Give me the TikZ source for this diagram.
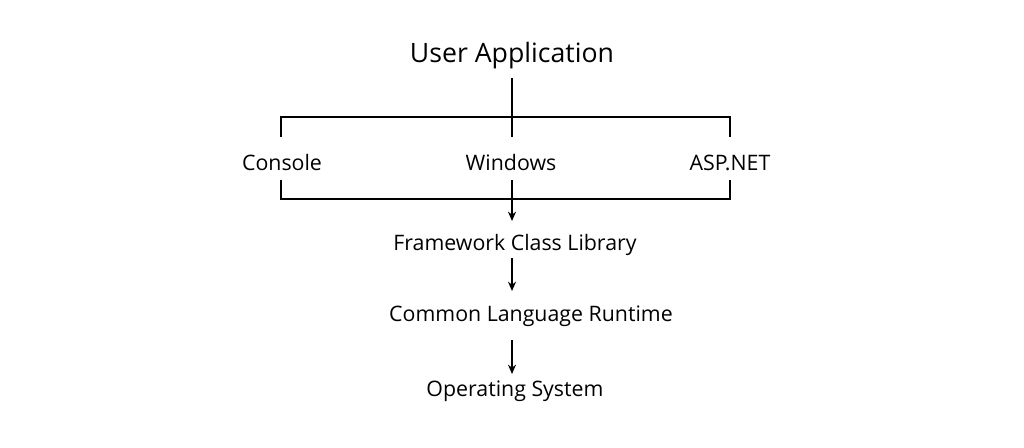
\documentclass[tikz,border=0pt]{standalone}
\usepackage{fontspec}
\setmainfont{Open Sans}
\usetikzlibrary{arrows.meta}
\begin{document}
\begin{tikzpicture}[x=0.75pt,y=-0.75pt,
  lbl/.style={inner sep=0pt,font=\fontsize{16}{18}\selectfont},
  big/.style={inner sep=0pt,font=\fontsize{20}{23}\selectfont},
  ln/.style={line width=1.9pt,black},
  arr/.style={ln,-{Stealth[length=7pt,width=6pt]}}]
\useasboundingbox (0,0) rectangle (1024,448);
\node[big] (ua) at (512,56) {User Application};
\node[lbl] (con) at (282,163) {Console};
\node[lbl] (win) at (511,163) {Windows};
\node[lbl] (asp) at (730,163) {ASP.NET};
\node[lbl] (fcl) at (515,245) {Framework Class Library};
\node[lbl] (clr) at (531,316) {Common Language Runtime};
\node[lbl] (os) at (515,391) {Operating System};
\coordinate (t) at (512,78);
\coordinate (tj) at (512,117);
\coordinate (tl) at (281,117);
\coordinate (tr) at (730,117);
\coordinate (bl) at (281,199);
\coordinate (br) at (730,199);
% top bracket
\draw[ln] (t) -- (512,137);
\draw[ln] (281,137) -- (tl) -- (tr) -- (730,137);
% bottom bracket
\draw[ln] (281,180) -- (bl) -- (br) -- (730,180);
\draw[arr] (512,180) -- (512,221);
\draw[arr] (512,258) -- (512,291);
\draw[arr] (512,340) -- (512,374);
\end{tikzpicture}
\end{document}
